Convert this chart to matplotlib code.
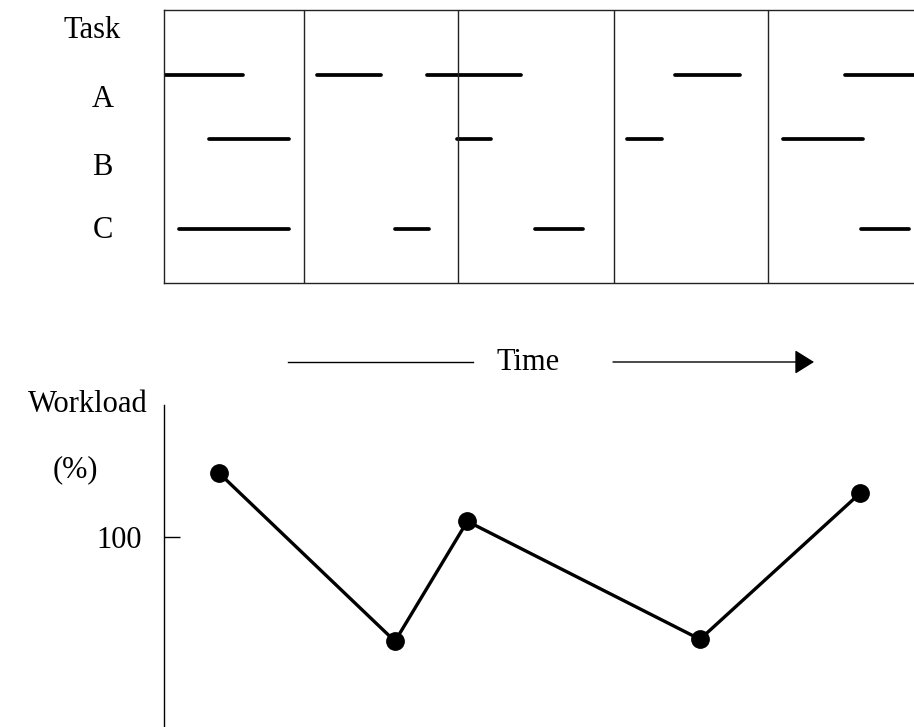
"""
Task timeline (A, B, C) and the workload it produces over time.
Writes out.png.
"""

import matplotlib
matplotlib.use("Agg")
import matplotlib.pyplot as plt

plt.rcParams["font.family"] = ["Liberation Serif", "DejaVu Serif"]

W, H = 914, 727

# ---- data (time in arbitrary units, shared by both panels) --------------
tasks = ["A", "B", "C"]
task_rows = [75, 139, 229]          # row position inside the task box
task_spans = {
    "A": [(0.1, 7.96), (15.36, 21.73), (26.33, 35.73), (51.16, 57.63), (68.16, 76.0)],
    "B": [(4.56, 12.56), (29.36, 32.76), (46.36, 49.8), (61.96, 69.96)],
    "C": [(1.56, 12.56), (23.16, 26.56), (37.16, 41.96), (69.76, 74.56)],
}
period_bounds = [14.0, 29.4, 45.0, 60.4]

work_t = [5.56, 23.13, 30.36, 53.63, 69.63]
work_pct = [132, 48, 108, 49, 122]
work_ticks = [100]

T_MAX = 75.03


def fx(x):
    return x / W


def fy(y):
    return 1 - y / H


fig = plt.figure(figsize=(W / 100, H / 100), dpi=100)

# ---- task box --------------------------------------------------------
ax = fig.add_axes([fx(163.7), fy(283), 1 - fx(163.7), fy(9.5) - fy(283)])
for name, row in zip(tasks, task_rows):
    for t0, t1 in task_spans[name]:
        ax.plot([t0, t1], [row, row], color="black", lw=2.7,
                solid_capstyle="round")
for b in period_bounds:
    ax.axvline(b, color="#222", lw=1.0)
ax.set_xlim(0, T_MAX)
ax.set_ylim(283, 9.5)
ax.set_xticks([]); ax.set_yticks([])
ax.spines["right"].set_visible(False)
for s in ["top", "left", "bottom"]:
    ax.spines[s].set_color("#222"); ax.spines[s].set_linewidth(1.0)

fs = 22
fig.text(fx(92), fy(38), "Task", ha="center", va="baseline", fontsize=fs)
for name, y in zip(tasks, [107, 175, 238]):
    fig.text(fx(102.5), fy(y), name, ha="center", va="baseline", fontsize=fs)

# ---- time arrow ------------------------------------------------------
ya = fy(362)
fig.add_artist(plt.Line2D([fx(288), fx(473)], [ya, ya], color="black", lw=1.0))
fig.text(fx(528), fy(370), "Time", ha="center", va="baseline", fontsize=fs)
fig.add_artist(matplotlib.patches.FancyArrowPatch(
    (fx(613), ya), (fx(814), ya), transform=fig.transFigure,
    arrowstyle="-|>,head_length=0.8,head_width=0.5", mutation_scale=15,
    color="black", lw=1.0, shrinkA=0, shrinkB=0))

# ---- workload --------------------------------------------------------
ax2 = fig.add_axes([fx(163.7), 0, 1 - fx(163.7), fy(405)])
ax2.plot(work_t, work_pct, color="black", lw=2.4, marker="o", ms=12.5)
ax2.set_xlim(0, T_MAX)
ax2.set_ylim(5.15, 166.15)
ax2.set_xticks([])
ax2.set_yticks(work_ticks, labels=[str(v) for v in work_ticks])
ax2.tick_params(axis="y", direction="in", length=11.5, width=1.0, pad=16,
                labelsize=fs)
for s in ["top", "right", "bottom"]:
    ax2.spines[s].set_visible(False)
ax2.spines["left"].set_linewidth(1.0)

fig.text(fx(148), fy(412), "Workload", ha="right", va="baseline", fontsize=fs)
fig.text(fx(75), fy(477), "(%)", ha="center", va="baseline", fontsize=fs)

fig.savefig("out.png", dpi=100)
